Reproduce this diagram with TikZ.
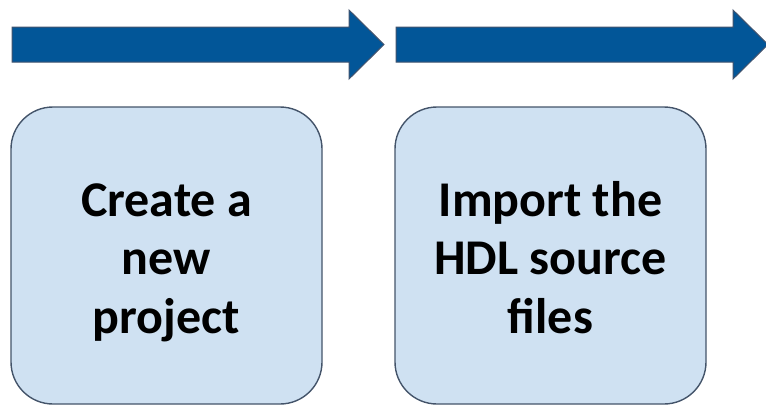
\documentclass[tikz,border=0pt]{standalone}
\usepackage{fontspec}
\setmainfont{Carlito}
\definecolor{arrowblue}{RGB}{2,86,152}
\definecolor{arrowedge}{RGB}{65,83,110}
\definecolor{boxfill}{RGB}{207,225,242}
\definecolor{boxedge}{RGB}{68,84,106}
\tikzset{
  flowarrow/.style={fill=arrowblue, draw=arrowedge, line width=1pt, line join=miter},
  stepbox/.style={draw=boxedge, fill=boxfill, line width=1.4pt, rounded corners=42pt,
    minimum width=311pt, minimum height=297pt, inner sep=0pt},
  steptext/.style={anchor=base, inner sep=0pt, align=center,
    font=\bfseries\fontsize{50}{58.5}\selectfont, text=black}
}
\begin{document}
\begin{tikzpicture}[x=1pt,y=-1pt]
  \useasboundingbox (0,0) rectangle (766,405);
  % process arrows
  \draw[flowarrow] (12,27) -- (349,27) -- (349,10) -- (384,44.5) -- (349,79) -- (349,62) -- (12,62) -- cycle;
  \draw[flowarrow] (396,27) -- (733,27) -- (733,10) -- (768,44.5) -- (733,79) -- (733,62) -- (396,62) -- cycle;
  % step boxes
  \node[stepbox] (create) at (166.5,255.5) {};
  \node[stepbox] (import) at (550.5,255.5) {};
  % box captions, last baseline fixed
  \node[steptext] (createtext) at (create.center |- 0,333) {Create a\\new\\project};
  \node[steptext] (importtext) at (import.center |- 0,333) {Import the\\HDL source\\files};
\end{tikzpicture}
\end{document}
